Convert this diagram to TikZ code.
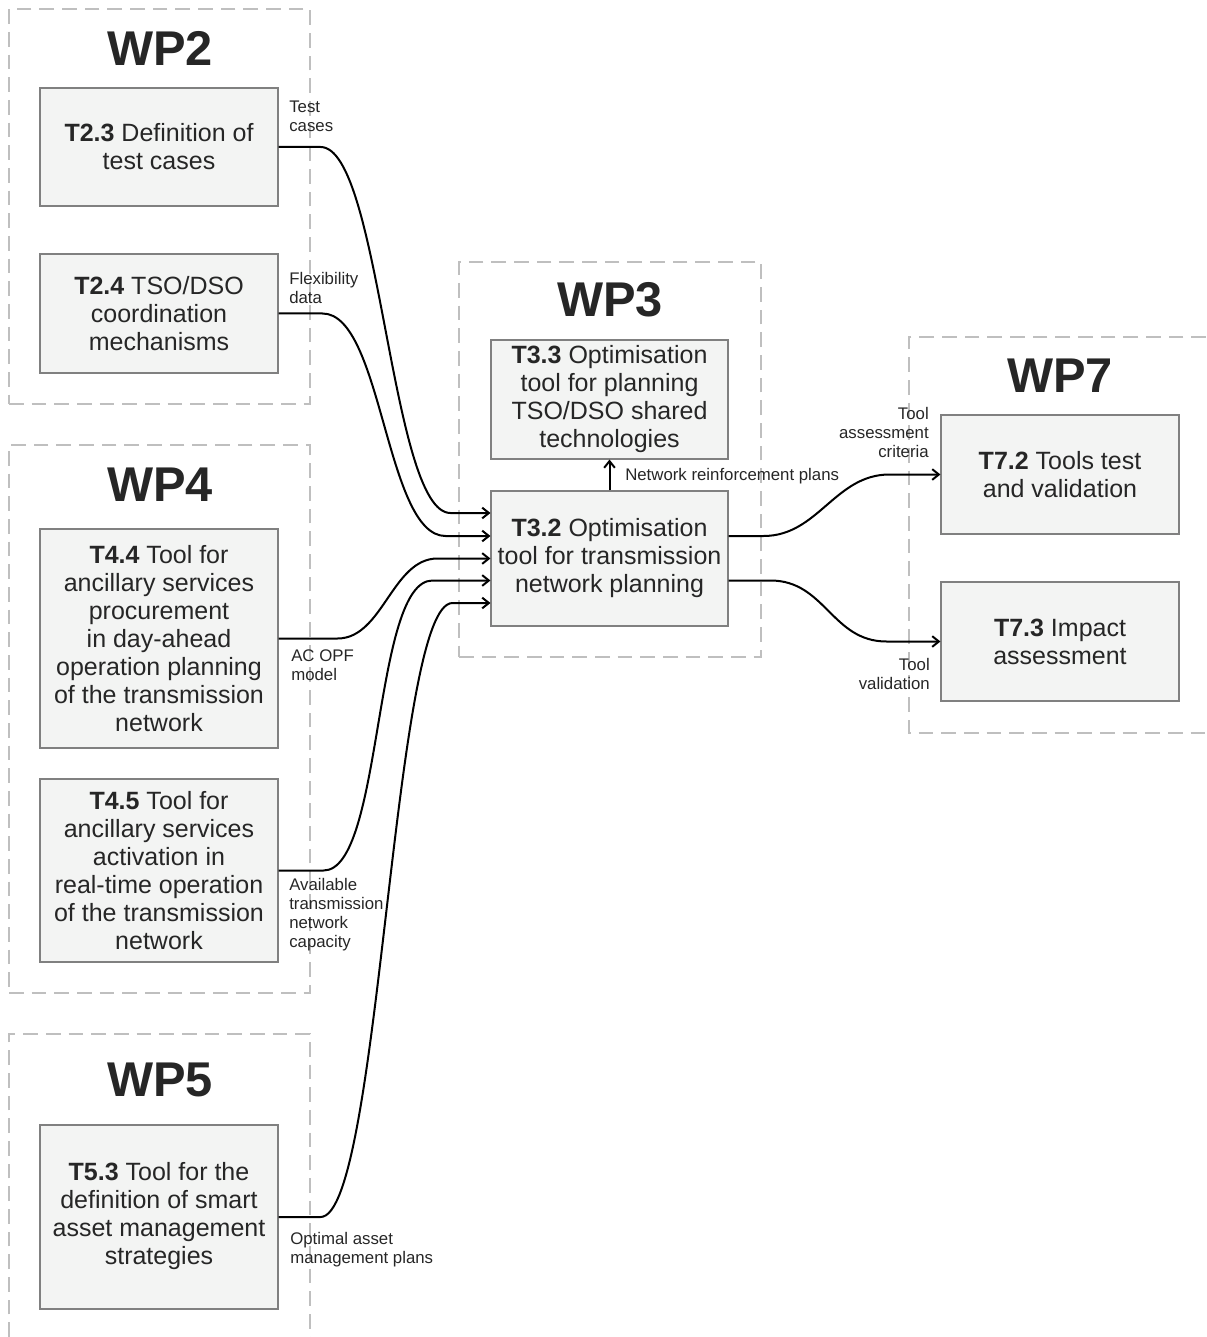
\documentclass[tikz,border=0pt]{standalone}
\usepackage{fontspec}
\setmainfont{Liberation Sans}
\usetikzlibrary{arrows.meta,calc}
\definecolor{boxfill}{HTML}{F3F4F3}
\definecolor{boxline}{HTML}{808080}
\definecolor{wpline}{HTML}{BFBFBF}
\definecolor{ink}{HTML}{262626}

\begin{document}
\begin{tikzpicture}[x=0.75pt,y=-0.75pt,
  wpbox/.style={draw=wpline, line width=1.1pt, dash pattern=on 11pt off 6pt, inner sep=0pt},
  wptitle/.style={font=\fontsize{36.6}{40}\selectfont\bfseries, text=ink, inner sep=0pt},
  task/.style={draw=boxline, fill=boxfill, line width=0.8pt, inner sep=0pt, align=center,
               text=ink, font=\fontsize{18.75}{21}\selectfont, minimum width=178.5pt},
  lbl/.style={font=\fontsize{12.6}{14.25}\selectfont, text=ink, inner sep=0pt},
  flow/.style={draw=black, line width=1.5pt, -{Straight Barb[length=5pt,width=8pt]}},
  sbend/.style={out=0, in=180, out distance=#1, in distance=#1},
]
\useasboundingbox (0,0) rectangle (1206,1337);

% work package frames
\node[wpbox, minimum width=225.75pt, minimum height=296.25pt] (wp2) at (159.5,206.5) {};
\node[wpbox, minimum width=225.75pt, minimum height=411pt] (wp4) at (159.5,719) {};
\node[wpbox, minimum width=226.5pt, minimum height=296.25pt] (wp3) at (610,459.5) {};
\draw[wpbox] (9,1337) -- (9,1034) -- (310,1034) -- (310,1337);
\draw[wpbox] (1206,337) -- (909,337) -- (909,733) -- (1206,733);

% work package titles
\node[wptitle] (wp2t) at (160,48) {WP2};
\node[wptitle] (wp4t) at (160,485) {WP4};
\node[wptitle] (wp5t) at (160,1080) {WP5};
\node[wptitle] (wp3t) at (610,300) {WP3};
\node[wptitle] (wp7t) at (1060,376) {WP7};

% tasks
\node[task, minimum height=88.5pt] (t23) at (159,147)
  {\textbf{T2.3} Definition of\\test cases};
\node[task, minimum height=89.25pt] (t24) at (159,313.5)
  {\textbf{T2.4} TSO/DSO\\coordination\\mechanisms};
\node[task, minimum height=164.25pt] (t44) at (159,638.5)
  {\textbf{T4.4} Tool for\\ancillary services\\procurement\\in day-ahead\\operation planning\\of the transmission\\network};
\node[task, minimum height=137.25pt] (t45) at (159,870.5)
  {\textbf{T4.5} Tool for\\ancillary services\\activation in\\real-time operation\\of the transmission\\network};
\node[task, minimum height=138pt] (t53) at (159,1217)
  {\raisebox{4.5pt}{\begin{tabular}{@{}c@{}}\textbf{T5.3} Tool for the\\definition of smart\\asset management\\strategies\end{tabular}}};
\node[task, minimum width=177.75pt, minimum height=89.25pt] (t33) at (609.5,399.5)
  {\textbf{T3.3} Optimisation\\tool for planning\\TSO/DSO shared\\technologies};
\node[task, minimum width=177.75pt, minimum height=101.25pt] (t32) at (609.5,558.5)
  {\textbf{T3.2} Optimisation\\tool for transmission\\network planning};
\node[task, minimum height=89.25pt] (t72) at (1060,474.5)
  {\textbf{T7.2} Tools test\\and validation};
\node[task, minimum height=89.25pt] (t73) at (1060,641.5)
  {\textbf{T7.3} Impact\\assessment};

% flows into T3.2
\draw[flow] (t23.east) -- ++(42,0) to[sbend=45pt] ($(t32.west)+(-40,-45.5)$) -- ($(t32.west)+(0,-45.5)$);
\draw[flow] (t24.east) -- ++(44,0) to[sbend=45pt] ($(t32.west)+(-45,-22.5)$) -- ($(t32.west)+(0,-22.5)$);
\draw[flow] (t44.east) -- ++(59,0) to[sbend=34pt] ($(t32.west)+(-53,0)$) -- (t32.west);
\draw[flow] (t45.east) -- ++(45,0) to[sbend=45pt] ($(t32.west)+(-58,22)$) -- ($(t32.west)+(0,22)$);
\draw[flow] (t53.east) -- ++(42,0) to[sbend=45pt] ($(t32.west)+(-38,44.5)$) -- ($(t32.west)+(0,44.5)$);

% flows out of T3.2
\draw[flow] (t32.north) -- (t33.south);
\draw[flow] ($(t32.east)+(0,-22.5)$) -- ++(35,0) to[sbend=41pt] ($(t72.west)+(-51,0)$) -- (t72.west);
\draw[flow] ($(t32.east)+(0,22)$) -- ++(42,0) to[sbend=41pt] ($(t73.west)+(-54,0)$) -- (t73.west);

% flow labels
\node[lbl, anchor=west, align=left] (l1) at (289,116.5) {Test\\cases};
\node[lbl, anchor=west, align=left] (l2) at (289,287.5) {Flexibility\\data};
\node[lbl, anchor=west, align=left] (l3) at (291,665.5) {AC OPF\\model};
\node[lbl, anchor=west, align=left] (l4) at (289,915) {Available\\transmission\\network\\capacity};
\node[lbl, anchor=west, align=left] (l5) at (290,1250) {Optimal asset\\management plans};
\node[lbl, anchor=west] (l6) at (625,476) {Network reinforcement plans};
\node[lbl, anchor=east, align=right] (l7) at (929,432.5) {Tool\\assessment\\criteria};
\node[lbl, anchor=east, align=right] (l8) at (930,674) {Tool\\validation};
\end{tikzpicture}
\end{document}
